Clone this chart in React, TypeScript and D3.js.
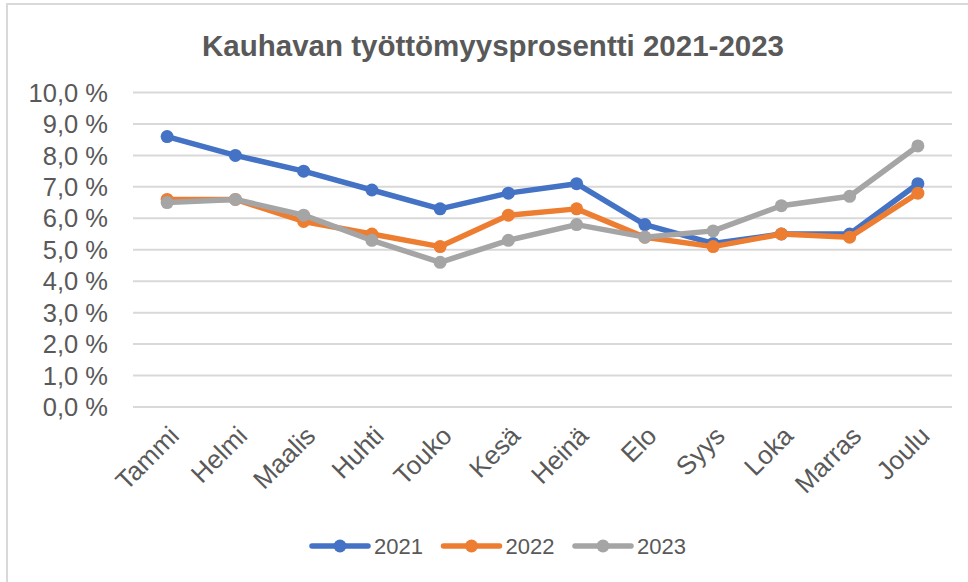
import React, { useEffect, useRef } from "react";
import * as d3 from "d3";

const months = ["Tammi", "Helmi", "Maalis", "Huhti", "Touko", "Kesä", "Heinä", "Elo", "Syys", "Loka", "Marras", "Joulu"];
const rate2021 = [8.6, 8.0, 7.5, 6.9, 6.3, 6.8, 7.1, 5.8, 5.2, 5.5, 5.5, 7.1];
const rate2022 = [6.6, 6.6, 5.9, 5.5, 5.1, 6.1, 6.3, 5.4, 5.1, 5.5, 5.4, 6.8];
const rate2023 = [6.5, 6.6, 6.1, 5.3, 4.6, 5.3, 5.8, 5.4, 5.6, 6.4, 6.7, 8.3];
const seriesNames = ["2021", "2022", "2023"];
const seriesColors = ["#4472C4", "#ED7D31", "#A5A5A5"];
const yTicks = [0, 1, 2, 3, 4, 5, 6, 7, 8, 9, 10];

const W = 968;
const H = 582;
const FONT = "'Liberation Sans', Arial, sans-serif";
const TEXT = "#595959";

export default function App() {
  const ref = useRef<SVGSVGElement>(null);

  useEffect(() => {
    const svg = d3.select(ref.current);
    svg.selectAll("*").remove();

    // chart frame (only top + left edges are in the shot)
    svg.append("path")
      .attr("d", `M7,${H} V4 H${W}`)
      .attr("fill", "none")
      .attr("stroke", "#d9d9d9")
      .attr("stroke-width", 2);

    svg.append("text")
      .attr("x", 493).attr("y", 56)
      .attr("text-anchor", "middle")
      .attr("font-family", FONT)
      .attr("font-weight", "bold")
      .attr("font-size", 29.5)
      .attr("fill", TEXT)
      .text("Kauhavan työttömyysprosentti  2021-2023");

    const x = d3.scaleBand().domain(months).range([133, 952]);
    const y = d3.scaleLinear().domain([0, 10]).range([407, 92.5]);

    // gridlines
    svg.append("g").selectAll("line")
      .data(yTicks)
      .join("line")
        .attr("x1", 133).attr("x2", 952)
        .attr("y1", d => y(d)).attr("y2", d => y(d))
        .attr("stroke", "#d9d9d9")
        .attr("stroke-width", 2);

    // y labels
    svg.append("g").selectAll("text")
      .data(yTicks)
      .join("text")
        .attr("x", 108).attr("y", d => y(d))
        .attr("dy", "0.36em")
        .attr("text-anchor", "end")
        .attr("font-family", FONT)
        .attr("font-size", 25.5)
        .attr("fill", TEXT)
        .text(d => d3.format(".1f")(d).replace(".", ",") + " %");

    // x labels, rotated
    svg.append("g").selectAll("text")
      .data(months)
      .join("text")
        .attr("transform", d => `translate(${x(d)! + x.bandwidth() / 2 + 7},${431}) rotate(-45)`)
        .attr("text-anchor", "end")
        .attr("dy", "0.35em")
        .attr("font-family", FONT)
        .attr("font-size", 26)
        .attr("fill", TEXT)
        .text(d => d);

    const cx = (i: number) => x(months[i])! + x.bandwidth() / 2;
    const line = d3.line<number>().x((_, i) => cx(i)).y(d => y(d));
    const allSeries = [rate2021, rate2022, rate2023];

    allSeries.forEach((vals, s) => {
      const g = svg.append("g");
      g.append("path")
        .attr("d", line(vals))
        .attr("fill", "none")
        .attr("stroke", seriesColors[s])
        .attr("stroke-width", 5.5)
        .attr("stroke-linejoin", "round");
      g.selectAll("circle")
        .data(vals)
        .join("circle")
          .attr("cx", (_, i) => cx(i))
          .attr("cy", d => y(d))
          .attr("r", 6.5)
          .attr("fill", seriesColors[s]);
    });

    // legend
    const legend = svg.append("g").attr("transform", "translate(312,546)");
    seriesNames.forEach((name, s) => {
      const item = legend.append("g").attr("transform", `translate(${s * 131.5},0)`);
      item.append("line")
        .attr("x1", 0).attr("x2", 56)
        .attr("stroke", seriesColors[s])
        .attr("stroke-width", 5.5)
        .attr("stroke-linecap", "round");
      item.append("circle").attr("cx", 28).attr("r", 6.5).attr("fill", seriesColors[s]);
      item.append("text")
        .attr("x", 62).attr("dy", "0.36em")
        .attr("font-family", FONT)
        .attr("font-size", 22)
        .attr("fill", TEXT)
        .text(name);
    });
  }, []);

  return (
    <svg ref={ref} width={W} height={H}
      style={{ position: "absolute", left: 0, top: 0, background: "#fff" }} />
  );
}
